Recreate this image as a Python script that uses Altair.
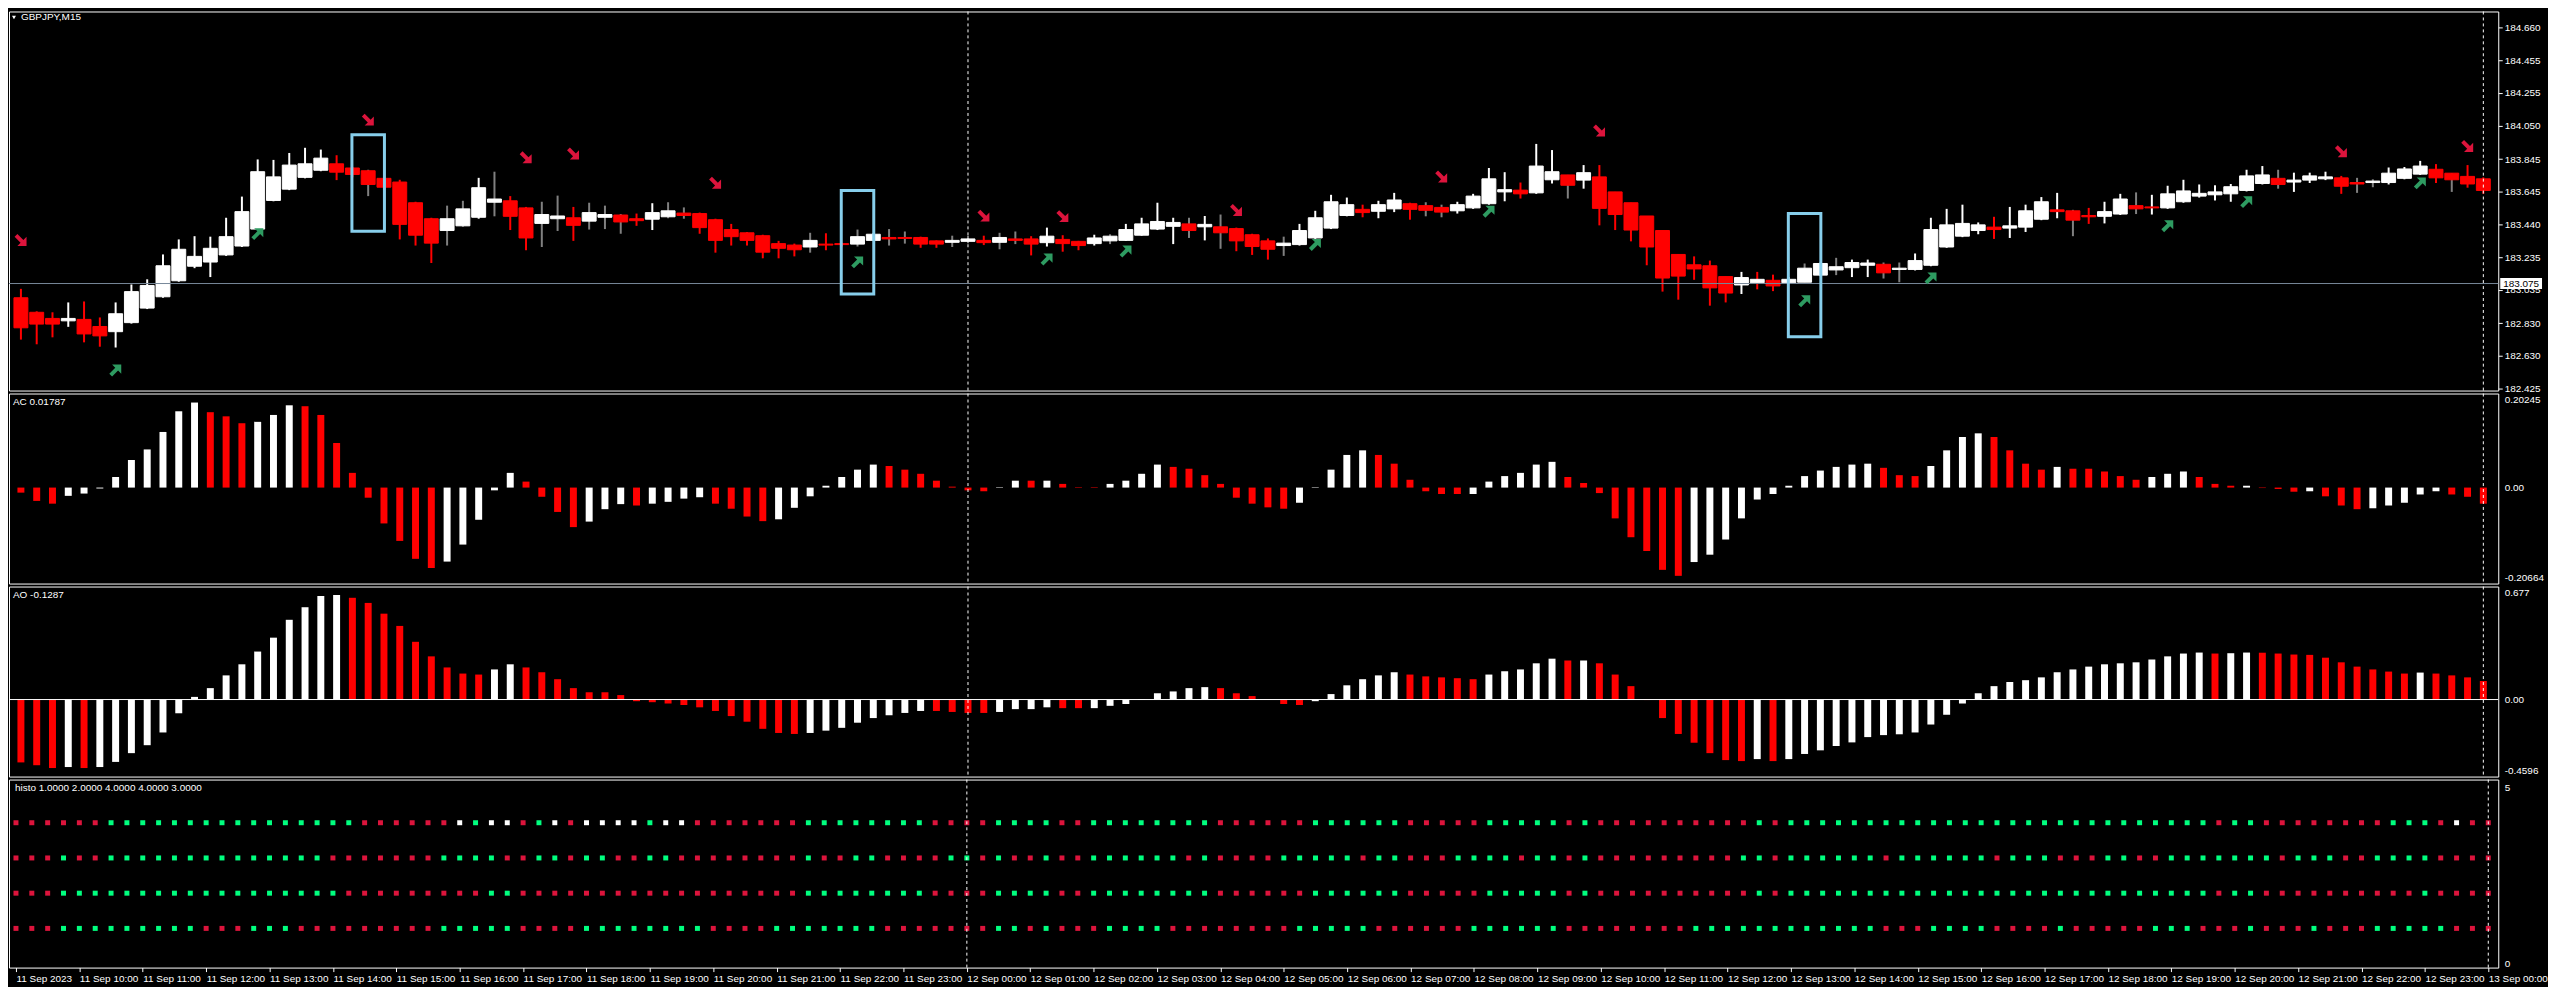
import altair as alt
import pandas as pd

FONT = "Liberation Sans Narrow, Liberation Sans, sans-serif"

# ---------------- data ----------------
opens = [182.987, 182.897, 182.859, 182.844, 182.853, 182.809, 182.777, 182.833, 182.923, 182.993,
         183.092, 183.182, 183.208, 183.252, 183.307, 183.412, 183.589, 183.659, 183.732, 183.776,
         183.816, 183.790, 183.773, 183.726, 183.703, 183.575, 183.476, 183.403, 183.432, 183.485,
         183.578, 183.587, 183.543, 183.447, 183.476, 183.482, 183.461, 183.485, 183.499, 183.476,
         183.473, 183.488, 183.511, 183.508, 183.470, 183.409, 183.389, 183.371, 183.322, 183.313,
         183.301, 183.319, 183.322, 183.319, 183.342, 183.360, 183.360, 183.360, 183.339, 183.330,
         183.336, 183.342, 183.330, 183.351, 183.351, 183.328, 183.348, 183.336, 183.322, 183.339,
         183.342, 183.374, 183.412, 183.429, 183.444, 183.426, 183.426, 183.415, 183.377, 183.339,
         183.310, 183.316, 183.357, 183.418, 183.496, 183.534, 183.522, 183.537, 183.569, 183.557,
         183.546, 183.525, 183.543, 183.569, 183.642, 183.653, 183.636, 183.717, 183.747, 183.715,
         183.735, 183.642, 183.575, 183.493, 183.403, 183.255, 183.191, 183.185, 183.118, 183.066,
         183.080, 183.095, 183.080, 183.083, 183.127, 183.159, 183.173, 183.188, 183.194, 183.162,
         183.162, 183.188, 183.301, 183.368, 183.403, 183.424, 183.418, 183.424, 183.473, 183.531,
         183.525, 183.496, 183.491, 183.505, 183.557, 183.549, 183.543, 183.581, 183.616, 183.624,
         183.630, 183.651, 183.694, 183.726, 183.703, 183.715, 183.723, 183.729, 183.700, 183.700,
         183.700, 183.726, 183.752, 183.782, 183.758, 183.738, 183.723]
highs = [183.042, 182.903, 182.897, 182.958, 182.964, 182.865, 182.958, 183.069, 183.101, 183.255,
         183.348, 183.368, 183.365, 183.482, 183.613, 183.843, 183.840, 183.883, 183.915, 183.904,
         183.869, 183.796, 183.779, 183.732, 183.717, 183.581, 183.482, 183.557, 183.587, 183.729,
         183.767, 183.616, 183.549, 183.581, 183.619, 183.549, 183.575, 183.557, 183.505, 183.508,
         183.572, 183.578, 183.546, 183.514, 183.476, 183.444, 183.394, 183.377, 183.339, 183.322,
         183.389, 183.386, 183.328, 183.409, 183.386, 183.412, 183.397, 183.365, 183.342, 183.371,
         183.371, 183.371, 183.389, 183.397, 183.368, 183.421, 183.374, 183.339, 183.377, 183.380,
         183.444, 183.482, 183.575, 183.482, 183.482, 183.493, 183.502, 183.421, 183.383, 183.354,
         183.365, 183.444, 183.525, 183.624, 183.607, 183.563, 183.587, 183.636, 183.575, 183.578,
         183.563, 183.581, 183.630, 183.790, 183.764, 183.700, 183.939, 183.901, 183.747, 183.808,
         183.808, 183.642, 183.575, 183.493, 183.403, 183.255, 183.243, 183.217, 183.118, 183.147,
         183.147, 183.130, 183.115, 183.199, 183.205, 183.234, 183.223, 183.223, 183.205, 183.205,
         183.261, 183.482, 183.537, 183.563, 183.453, 183.488, 183.549, 183.563, 183.610, 183.636,
         183.531, 183.543, 183.581, 183.630, 183.639, 183.624, 183.680, 183.717, 183.688, 183.683,
         183.691, 183.779, 183.802, 183.779, 183.761, 183.761, 183.767, 183.741, 183.729, 183.720,
         183.793, 183.796, 183.834, 183.814, 183.758, 183.808, 183.732]
lows = [182.728, 182.699, 182.742, 182.807, 182.711, 182.684, 182.679, 182.827, 182.917, 182.987,
        183.086, 183.170, 183.115, 183.246, 183.301, 183.406, 183.584, 183.653, 183.726, 183.770,
        183.715, 183.732, 183.616, 183.665, 183.348, 183.310, 183.202, 183.310, 183.426, 183.476,
        183.491, 183.406, 183.281, 183.301, 183.400, 183.339, 183.409, 183.412, 183.383, 183.432,
        183.406, 183.479, 183.476, 183.383, 183.266, 183.310, 183.310, 183.231, 183.231, 183.243,
        183.266, 183.281, 183.304, 183.304, 183.339, 183.310, 183.322, 183.296, 183.296, 183.301,
        183.325, 183.313, 183.287, 183.319, 183.249, 183.304, 183.272, 183.281, 183.310, 183.319,
        183.339, 183.371, 183.406, 183.319, 183.357, 183.342, 183.290, 183.275, 183.252, 183.223,
        183.246, 183.310, 183.351, 183.412, 183.491, 183.485, 183.479, 183.517, 183.470, 183.491,
        183.485, 183.508, 183.537, 183.563, 183.584, 183.601, 183.630, 183.694, 183.601, 183.662,
        183.435, 183.406, 183.336, 183.188, 183.025, 182.975, 183.098, 182.938, 182.958, 183.010,
        183.039, 183.028, 183.077, 183.083, 183.121, 183.127, 183.115, 183.115, 183.106, 183.083,
        183.156, 183.182, 183.296, 183.362, 183.380, 183.351, 183.357, 183.394, 183.467, 183.479,
        183.368, 183.444, 183.447, 183.499, 183.505, 183.502, 183.537, 183.575, 183.607, 183.589,
        183.581, 183.645, 183.688, 183.662, 183.642, 183.697, 183.715, 183.630, 183.636, 183.671,
        183.688, 183.720, 183.747, 183.697, 183.642, 183.668, 183.630]
closes = [182.801, 182.824, 182.824, 182.859, 182.763, 182.751, 182.888, 183.025, 183.063, 183.185,
          183.287, 183.243, 183.293, 183.365, 183.520, 183.767, 183.735, 183.808, 183.816, 183.851,
          183.764, 183.750, 183.688, 183.671, 183.441, 183.374, 183.325, 183.476, 183.537, 183.668,
          183.598, 183.491, 183.357, 183.502, 183.493, 183.435, 183.514, 183.502, 183.456, 183.464,
          183.514, 183.525, 183.496, 183.421, 183.342, 183.365, 183.342, 183.269, 183.293, 183.284,
          183.342, 183.313, 183.316, 183.365, 183.380, 183.351, 183.354, 183.319, 183.319, 183.342,
          183.351, 183.328, 183.360, 183.342, 183.319, 183.368, 183.322, 183.310, 183.357, 183.368,
          183.409, 183.444, 183.459, 183.453, 183.403, 183.441, 183.389, 183.339, 183.304, 183.287,
          183.325, 183.403, 183.482, 183.581, 183.563, 183.514, 183.563, 183.592, 183.534, 183.528,
          183.517, 183.563, 183.616, 183.723, 183.656, 183.630, 183.802, 183.767, 183.683, 183.761,
          183.540, 183.502, 183.406, 183.301, 183.109, 183.121, 183.165, 183.048, 183.016, 183.112,
          183.101, 183.060, 183.101, 183.170, 183.199, 183.179, 183.205, 183.202, 183.141, 183.170,
          183.217, 183.409, 183.438, 183.447, 183.438, 183.409, 183.432, 183.525, 183.581, 183.520,
          183.467, 183.488, 183.520, 183.598, 183.537, 183.543, 183.630, 183.648, 183.633, 183.642,
          183.674, 183.741, 183.747, 183.688, 183.715, 183.741, 183.735, 183.677, 183.691, 183.709,
          183.758, 183.784, 183.802, 183.729, 183.717, 183.691, 183.651]
N = len(opens)

# wicks drawn in another colour than the body (g = grey, w = white, r = red)
wick_override = {22: 'g', 27: 'g', 28: 'g', 30: 'g', 33: 'g', 34: 'g', 36: 'g', 37: 'g', 38: 'g',
                 41: 'g', 42: 'g', 50: 'g', 53: 'g', 55: 'g', 56: 'g', 59: 'g', 60: 'g', 62: 'g',
                 63: 'g', 69: 'g', 74: 'g', 76: 'g', 80: 'g', 89: 'g', 90: 'g', 98: 'g', 110: 'r',
                 113: 'g', 115: 'g', 118: 'g', 119: 'g', 129: 'w', 130: 'g', 134: 'g', 135: 'w',
                 143: 'g', 148: 'g', 149: 'g', 154: 'g'}

last_price = 183.075
price_ticks = [184.660, 184.455, 184.255, 184.050, 183.845, 183.645, 183.440, 183.235,
               183.035, 182.830, 182.630, 182.425]

down_bars = [0, 22, 32, 35, 44, 61, 66, 77, 90, 100, 147, 155]
down_prices = [183.342, 184.087, 183.854, 183.878, 183.697, 183.493, 183.490, 183.528,
               183.735, 184.020, 183.892, 183.924]
up_bars = [6, 15, 53, 65, 70, 82, 93, 113, 121, 136, 141, 152]
up_prices = [182.539, 183.383, 183.208, 183.226, 183.275, 183.316, 183.522, 182.967,
             183.109, 183.432, 183.581, 183.697]

box_bars = [22, 53, 113]
box_high = [183.995, 183.650, 183.509]
box_low = [183.398, 183.010, 182.745]

separator_bars = [60, 156]

ac_vals = [-0.011, -0.029, -0.035, -0.018, -0.013, -0.002, 0.023, 0.060, 0.083, 0.121,
           0.166, 0.185, 0.164, 0.155, 0.140, 0.143, 0.158, 0.179, 0.177, 0.158,
           0.097, 0.032, -0.022, -0.078, -0.116, -0.155, -0.175, -0.161, -0.124, -0.070,
           -0.006, 0.032, 0.013, -0.020, -0.053, -0.086, -0.074, -0.047, -0.036, -0.039,
           -0.035, -0.031, -0.024, -0.021, -0.035, -0.046, -0.063, -0.073, -0.069, -0.044,
           -0.019, 0.004, 0.023, 0.039, 0.050, 0.047, 0.039, 0.030, 0.015, 0.002,
           -0.006, -0.008, 0.001, 0.015, 0.015, 0.015, 0.008, 0.001, 0.001, 0.008,
           0.015, 0.030, 0.050, 0.045, 0.041, 0.027, 0.008, -0.022, -0.035, -0.043,
           -0.046, -0.033, 0.001, 0.039, 0.071, 0.081, 0.071, 0.052, 0.017, -0.008,
           -0.014, -0.014, -0.014, 0.013, 0.025, 0.032, 0.050, 0.056, 0.023, 0.010,
           -0.012, -0.067, -0.108, -0.138, -0.179, -0.192, -0.162, -0.146, -0.113, -0.067,
           -0.026, -0.014, 0.004, 0.025, 0.037, 0.045, 0.050, 0.052, 0.043, 0.027,
           0.025, 0.047, 0.081, 0.110, 0.118, 0.110, 0.081, 0.052, 0.039, 0.045,
           0.041, 0.041, 0.035, 0.025, 0.017, 0.023, 0.030, 0.035, 0.023, 0.008,
           0.004, 0.004, -0.001, -0.003, -0.009, -0.008, -0.019, -0.039, -0.047, -0.045,
           -0.039, -0.033, -0.015, -0.008, -0.015, -0.020, -0.035]
ac_cols = ("rrrwwwwwww" "wwrrrwwwrr" "rrrrrrrwww" "wwrrrrwwwr" "wwwwrrrrww"
           "wwwwwrrrrr" "rrwwrwrrrw" "wwwrrrrrrr" "rwwwwwrrrr" "rrwwwwwwrr"
           "rrrrrrwwww" "wwwwwwwwrr" "rwwwwrrrrw" "rrrrrwwwrr" "rwrrrwrrrw" "wwwwrrr")

ao_vals = [-0.380, -0.397, -0.414, -0.408, -0.414, -0.408, -0.377, -0.324, -0.276, -0.199,
           -0.083, 0.016, 0.069, 0.146, 0.213, 0.290, 0.374, 0.482, 0.558, 0.626,
           0.632, 0.615, 0.584, 0.519, 0.445, 0.349, 0.261, 0.194, 0.157, 0.151,
           0.182, 0.213, 0.194, 0.165, 0.123, 0.069, 0.044, 0.044, 0.027, -0.010,
           -0.016, -0.024, -0.033, -0.047, -0.069, -0.100, -0.134, -0.177, -0.202, -0.208,
           -0.202, -0.188, -0.171, -0.140, -0.112, -0.095, -0.081, -0.069, -0.069, -0.075,
           -0.081, -0.081, -0.075, -0.058, -0.058, -0.047, -0.052, -0.052, -0.052, -0.038,
           -0.027, 0.002, 0.038, 0.049, 0.069, 0.075, 0.069, 0.038, 0.021, -0.002,
           -0.027, -0.033, -0.010, 0.033, 0.086, 0.123, 0.146, 0.165, 0.151, 0.140,
           0.134, 0.129, 0.123, 0.151, 0.171, 0.182, 0.219, 0.247, 0.236, 0.236,
           0.219, 0.151, 0.081, -0.003, -0.112, -0.208, -0.261, -0.324, -0.366, -0.372,
           -0.360, -0.372, -0.360, -0.329, -0.307, -0.281, -0.259, -0.227, -0.215, -0.210,
           -0.199, -0.151, -0.092, -0.024, 0.038, 0.081, 0.106, 0.117, 0.134, 0.165,
           0.182, 0.199, 0.213, 0.219, 0.225, 0.242, 0.261, 0.278, 0.284, 0.278,
           0.280, 0.284, 0.283, 0.278, 0.272, 0.270, 0.253, 0.225, 0.199, 0.182,
           0.169, 0.157, 0.163, 0.157, 0.146, 0.134, 0.112]
ao_cols = ("rrrwrwwwww" "wwwwwwwwww" "wrrrrrrrrr" "wwrrrrrrrr" "rrrrrrrrrr"
           "wwwwwwwwrr" "rrwwwwrrww" "wwwwwwrrrr" "rrwwwwwwrr" "rrrwwwwwrw"
           "rrrrrrrrrr" "wrwwwwwwww" "wwwwwwwwww" "wwwwwwwwwr" "wwrrrrrrrr" "rrwrrrr")

histo_row4 = ("rrrrrrgggg" "gggggggggg" "ggrrrrrrwg" "wwrgwrwwww" "gwwrrrrrrr"
              "ggggggggrr" "rrggggrrgg" "ggggggrrrr" "rrggggggrr" "rrrgggggrg"
              "rrrrrrrrrr" "grgggggggg" "gggggggggg" "gggggggggr" "ggrrrrrrrr" "gggrwrr")
histo_row3 = ("rrrgrrgggg" "gggggggggg" "rrrrrrrggg" "grrggrggrr" "ggrrrrrrrr"
              "grrggrrrrg" "grgrrgrrgg" "ggggrgrrrr" "gggggrggrr" "rggggrggrg"
              "rrrrrrrrrg" "grggggggrg" "gggggrgggr" "rrggrrgggg" "gggrgggrrg" "gggrrrr")
histo_row2 = ("rrrggggggg" "gggggggggg" "grrrrrrrrr" "ggrrrrrrrr" "rrrrrrrrrr"
              "ggggggggrr" "rrggggrrgg" "ggggggrrrr" "rrggggggrr" "rrrgggggrg"
              "rrrrrrrrrr" "grgggggggg" "gggggggggg" "gggggggggr" "ggrrrrrrrr" "rrgrrrr")
histo_row1 = ("rrrggggggg" "ggrrrgggrr" "rrrrrrrggg" "ggrrrrgggg" "ggggrrrrgg"
              "gggggrrrrr" "rrggrgrrrg" "gggrrrrrrr" "rgggggrrrr" "rrggggggrr"
              "rrrrrrgggg" "ggggggggrr" "rggggrrrrg" "rrrrrgggrr" "rgrrrgrrrg" "ggggrrr")

tick_bars = list(range(0, 157, 4))
tick_labels = ["11 Sep 2023", "11 Sep 10:00", "11 Sep 11:00", "11 Sep 12:00", "11 Sep 13:00",
               "11 Sep 14:00", "11 Sep 15:00", "11 Sep 16:00", "11 Sep 17:00", "11 Sep 18:00",
               "11 Sep 19:00", "11 Sep 20:00", "11 Sep 21:00", "11 Sep 22:00", "11 Sep 23:00",
               "12 Sep 00:00", "12 Sep 01:00", "12 Sep 02:00", "12 Sep 03:00", "12 Sep 04:00",
               "12 Sep 05:00", "12 Sep 06:00", "12 Sep 07:00", "12 Sep 08:00", "12 Sep 09:00",
               "12 Sep 10:00", "12 Sep 11:00", "12 Sep 12:00", "12 Sep 13:00", "12 Sep 14:00",
               "12 Sep 15:00", "12 Sep 16:00", "12 Sep 17:00", "12 Sep 18:00", "12 Sep 19:00",
               "12 Sep 20:00", "12 Sep 21:00", "12 Sep 22:00", "12 Sep 23:00", "13 Sep 00:00"]

# ---------------- layout / styles ----------------
W = 2502
H_MAIN, H_AC, H_AO, H_HI = 381, 191, 191, 189
XDOM = [-0.44, 156.63]

COLORS = alt.Scale(domain=['w', 'r', 'g', 'G', 'R'],
                   range=['#FFFFFF', '#FF0000', '#808080', '#00FF7F', '#DC143C'])


def xenc(field='i:Q', axis=None):
    return alt.X(field, scale=alt.Scale(domain=XDOM, nice=False, zero=False), axis=axis, title=None)


def yaxis(values, label_expr=None, ticks=False, flush=False, fmt=None):
    kw = dict(orient='right', values=values, ticks=ticks, tickSize=4, tickColor='white',
              domain=False, grid=False, labelColor='white', labelFont=FONT, labelFontSize=10,
              labelPadding=6 if not ticks else 2, labelOverlap=False, title=None)
    if label_expr:
        kw['labelExpr'] = label_expr
    if flush:
        kw['labelFlush'] = 3
    if fmt:
        kw['format'] = fmt
    return alt.Axis(**kw)


def title_text(txt, x, y):
    return alt.Chart(pd.DataFrame({'t': [txt]})).mark_text(
        align='left', baseline='middle', color='white', font=FONT, fontSize=10
    ).encode(x=alt.value(x), y=alt.value(y), text='t:N')


def separators(axis=None):
    return alt.Chart(pd.DataFrame({'i': separator_bars})).mark_rule(
        color='white', strokeDash=[3, 3], strokeWidth=1).encode(x=xenc(axis=axis))


# ---------------- main price panel ----------------
bars = pd.DataFrame({'i': range(N), 'o': opens, 'h': highs, 'l': lows, 'c': closes})
bars['dir'] = ['w' if c >= o else 'r' for o, c in zip(opens, closes)]
bars['wick'] = [wick_override.get(i, d) for i, d in enumerate(bars['dir'])]

price_scale = alt.Scale(domain=[182.4127, 184.7585], nice=False, zero=False)
price_axis = yaxis(price_ticks, ticks=True, fmt='.3f')

wicks = alt.Chart(bars).mark_rule(strokeWidth=2).encode(
    x=xenc(),
    y=alt.Y('l:Q', scale=price_scale, axis=price_axis, title=None),
    y2='h:Q',
    color=alt.Color('wick:N', scale=COLORS, legend=None))
bodies = alt.Chart(bars).mark_bar(size=14, strokeWidth=1).encode(
    x=xenc(), y=alt.Y('o:Q', axis=price_axis, title=None), y2='c:Q',
    color=alt.Color('dir:N', scale=COLORS, legend=None),
    stroke=alt.Stroke('dir:N', scale=COLORS, legend=None))

price_line = alt.Chart(pd.DataFrame({'p': [last_price]})).mark_rule(
    color='#778899', strokeWidth=1).encode(y=alt.Y('p:Q', axis=price_axis, title=None))
price_box = alt.Chart(pd.DataFrame({'p': [last_price]})).mark_rule(
    color='white', strokeWidth=11, strokeCap='butt').encode(
    x=alt.value(W + 2), x2=alt.value(W + 44), y=alt.Y('p:Q', axis=price_axis, title=None))
price_txt = alt.Chart(pd.DataFrame({'p': [last_price]})).mark_text(
    align='left', baseline='middle', color='black', font=FONT, fontSize=10).encode(
    x=alt.value(W + 5), y=alt.Y('p:Q', axis=price_axis, title=None),
    text=alt.Text('p:Q', format='.3f'))

boxes = alt.Chart(pd.DataFrame({'b': box_bars, 'hi': box_high, 'lo': box_low})).transform_calculate(
    x1='datum.b - 1.03', x2='datum.b + 1.03').mark_rect(
    fillOpacity=0, stroke='#87CEEB', strokeWidth=3).encode(
    x=xenc('x1:Q'), x2='x2:Q', y=alt.Y('hi:Q', axis=price_axis, title=None), y2='lo:Q')

DOWN = "M -0.9 -0.5 L -0.5 -0.9 L 0.35 -0.05 L 0.8 -0.5 L 0.8 0.8 L -0.5 0.8 L -0.05 0.35 Z"
UP = "M -0.9 0.5 L -0.5 0.9 L 0.35 0.05 L 0.8 0.5 L 0.8 -0.8 L -0.5 -0.8 L -0.05 -0.35 Z"
arrows_dn = alt.Chart(pd.DataFrame({'i': down_bars, 'p': down_prices})).mark_point(
    shape=DOWN, filled=True, size=200, color='#DC143C', opacity=1).encode(
    x=xenc(), y=alt.Y('p:Q', axis=price_axis, title=None))
arrows_up = alt.Chart(pd.DataFrame({'i': up_bars, 'p': up_prices})).mark_point(
    shape=UP, filled=True, size=200, color='#2E9B61', opacity=1).encode(
    x=xenc(), y=alt.Y('p:Q', axis=price_axis, title=None))

tri = alt.Chart(pd.DataFrame({'t': [0]})).mark_point(
    shape='triangle-down', filled=True, color='white', size=16, opacity=1).encode(
    x=alt.value(5), y=alt.value(6))

main = alt.layer(wicks, bodies, separators(), price_line, boxes, arrows_dn, arrows_up,
                 title_text('GBPJPY,M15', 12, 6), tri, price_box, price_txt
                 ).properties(width=W, height=H_MAIN)

# ---------------- AC panel ----------------
ac_df = pd.DataFrame({'i': range(N), 'ac': ac_vals, 'col': list(ac_cols)})
ac_expr = "datum.value > 0.1 ? '0.20245' : datum.value < -0.1 ? '-0.20664' : '0.00'"
ac_bars = alt.Chart(ac_df).mark_bar(size=7).encode(
    x=xenc(),
    y=alt.Y('ac:Q', scale=alt.Scale(domain=[-0.2088, 0.2046], nice=False, zero=False),
            axis=yaxis([0.20245, 0, -0.20664], ac_expr, flush=True), title=None),
    y2=alt.datum(0),
    color=alt.Color('col:N', scale=COLORS, legend=None))
ac = alt.layer(ac_bars, separators(), title_text('AC 0.01787', 4, 9)).properties(width=W, height=H_AC)

# ---------------- AO panel ----------------
ao_df = pd.DataFrame({'i': range(N), 'ao': ao_vals, 'col': list(ao_cols)})
ao_expr = "datum.value > 0.3 ? '0.677' : datum.value < -0.3 ? '-0.4596' : '0.00'"
ao_axis = yaxis([0.677, 0, -0.4596], ao_expr, flush=True)
ao_bars = alt.Chart(ao_df).mark_bar(size=7).encode(
    x=xenc(),
    y=alt.Y('ao:Q', scale=alt.Scale(domain=[-0.4656, 0.683], nice=False, zero=False),
            axis=ao_axis, title=None),
    y2=alt.datum(0),
    color=alt.Color('col:N', scale=COLORS, legend=None))
ao_zero = alt.Chart(pd.DataFrame({'z': [0.0]})).mark_rule(color='white', strokeWidth=1).encode(
    y=alt.Y('z:Q', axis=ao_axis, title=None))
ao = alt.layer(ao_bars, ao_zero, separators(), title_text('AO -0.1287', 4, 9)).properties(width=W, height=H_AO)

# ---------------- histo panel ----------------
code = {'r': 'R', 'g': 'G', 'w': 'w'}
recs = []
for level, row in [(4, histo_row4), (3, histo_row3), (2, histo_row2), (1, histo_row1)]:
    for i, ch in enumerate(row):
        recs.append({'i': i, 'lvl': level, 'col': code[ch]})
hi_df = pd.DataFrame(recs)

x_expr = "[" + ",".join("'%s'" % s for s in tick_labels) + "][round(datum.value / 4)]"
x_axis = alt.Axis(values=tick_bars, labelExpr=x_expr, labelAlign='left', labelBaseline='top',
                  labelPadding=2, tickSize=4, tickColor='white', labelColor='white',
                  labelFont=FONT, labelFontSize=10, domain=False, grid=False, labelFlush=False,
                  labelOverlap=False, labelBound=False, title=None)
dots = alt.Chart(hi_df).mark_square(size=25, filled=True, opacity=1).encode(
    x=xenc(axis=x_axis),
    y=alt.Y('lvl:Q', scale=alt.Scale(domain=[-0.113, 5.226], nice=False, zero=False),
            axis=yaxis([5, 0], "datum.value > 2 ? '5' : '0'"), title=None),
    color=alt.Color('col:N', scale=COLORS, legend=None))
histo = alt.layer(dots, separators(axis=x_axis),
                  title_text('histo  1.0000 2.0000 4.0000 4.0000 3.0000', 6, 9)
                  ).properties(width=W, height=H_HI)

chart = alt.vconcat(main, ac, ao, histo, spacing=3, bounds='flush').resolve_scale(
    y='independent').properties(
    padding=0,
    background='black'
).configure_view(stroke='white', strokeWidth=1).configure_axis(labelOverlap=False)

chart.save("out.html", embed_options={"renderer": "svg", "actions": False})
